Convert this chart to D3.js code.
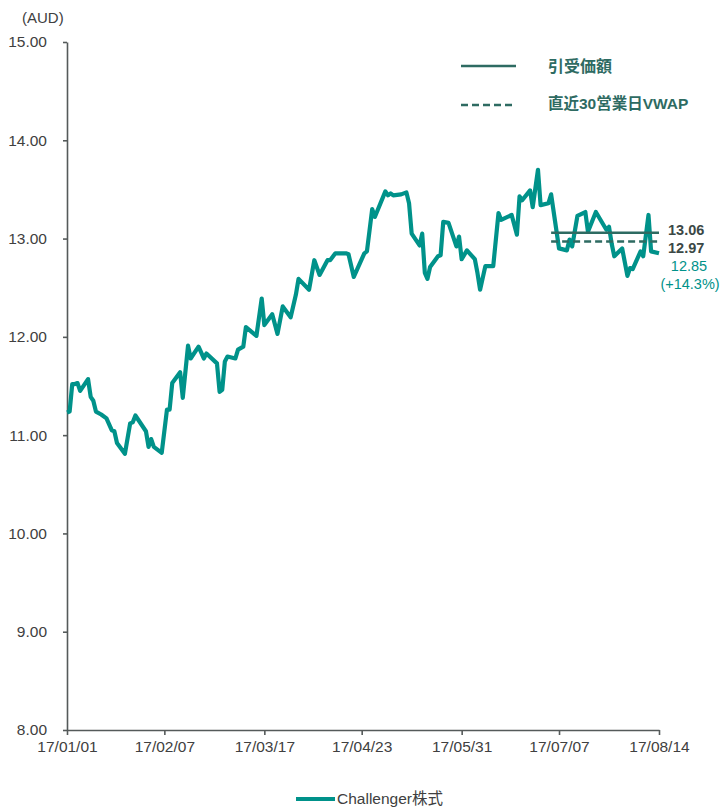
<!DOCTYPE html>
<html>
<head>
<meta charset="utf-8">
<script src="https://cdn.jsdelivr.net/npm/d3@7"></script>
<style>
  html, body { margin: 0; padding: 0; background: #fff; }
  svg { display: block; font-family: "Liberation Sans", Arial, sans-serif; }
</style>
</head>
<body>
<svg id="chart" width="726" height="807"></svg>
<script>
// Challenger share price (AUD), 2017
const dates = [
  "2017-01-01","2017-01-02","2017-01-03","2017-01-04","2017-01-05","2017-01-06","2017-01-09","2017-01-10",
  "2017-01-11","2017-01-12","2017-01-14","2017-01-16","2017-01-18","2017-01-19","2017-01-20","2017-01-23",
  "2017-01-25","2017-01-26","2017-01-27","2017-01-31","2017-02-01","2017-02-02","2017-02-03","2017-02-06",
  "2017-02-08","2017-02-09","2017-02-10","2017-02-13","2017-02-14","2017-02-16","2017-02-17","2017-02-20",
  "2017-02-22","2017-02-23","2017-02-27","2017-02-28","2017-03-01","2017-03-02","2017-03-03","2017-03-06",
  "2017-03-07","2017-03-09","2017-03-10","2017-03-14","2017-03-16","2017-03-17","2017-03-20","2017-03-22",
  "2017-03-24","2017-03-27","2017-03-29","2017-03-30","2017-04-03","2017-04-05","2017-04-07","2017-04-10",
  "2017-04-11","2017-04-13","2017-04-17","2017-04-18","2017-04-20","2017-04-24","2017-04-25","2017-04-27",
  "2017-04-28","2017-05-02","2017-05-03","2017-05-04","2017-05-05","2017-05-08","2017-05-10","2017-05-11",
  "2017-05-12","2017-05-15","2017-05-16","2017-05-17","2017-05-18","2017-05-19","2017-05-22","2017-05-23",
  "2017-05-24","2017-05-26","2017-05-29","2017-05-30","2017-05-31","2017-06-02","2017-06-05","2017-06-06",
  "2017-06-07","2017-06-09","2017-06-12","2017-06-14","2017-06-15","2017-06-19","2017-06-21","2017-06-22",
  "2017-06-23","2017-06-26","2017-06-27","2017-06-29","2017-06-30","2017-07-03","2017-07-04","2017-07-07",
  "2017-07-10","2017-07-11","2017-07-12","2017-07-14","2017-07-17","2017-07-18","2017-07-21","2017-07-25",
  "2017-07-26","2017-07-27","2017-07-28","2017-07-31","2017-08-02","2017-08-03","2017-08-04","2017-08-07",
  "2017-08-08","2017-08-10","2017-08-11","2017-08-14"
];
const prices = [
  11.23,11.24,11.52,11.52,11.53,11.45,11.57,11.39,
  11.35,11.24,11.21,11.17,11.05,11.04,10.92,10.81,
  11.12,11.13,11.20,11.04,10.88,10.96,10.88,10.82,
  11.26,11.26,11.53,11.64,11.38,11.91,11.78,11.90,
  11.78,11.83,11.73,11.44,11.46,11.75,11.80,11.78,
  11.87,11.90,12.10,12.01,12.39,12.12,12.23,12.03,
  12.31,12.20,12.43,12.59,12.48,12.78,12.63,12.78,
  12.78,12.85,12.85,12.84,12.61,12.85,12.87,13.30,
  13.22,13.48,13.44,13.46,13.44,13.45,13.47,13.36,
  13.05,12.93,13.05,12.65,12.59,12.71,12.82,12.83,
  13.17,13.16,12.92,13.02,12.79,12.88,12.79,12.65,
  12.48,12.72,12.72,13.26,13.19,13.24,13.04,13.43,
  13.39,13.49,13.32,13.70,13.34,13.36,13.45,12.90,
  12.88,12.99,12.92,13.23,13.27,13.07,13.27,13.09,
  13.12,12.95,12.82,12.90,12.62,12.70,12.69,12.87,
  12.82,13.24,12.87,12.85
];

// Reference levels over the last 30 trading days
const refStart = "2017-07-04";
const refEnd = "2017-08-14";
const offerPrice = 13.06;
const vwap30 = 12.97;
const lastPrice = 12.85;
const premiumLabel = "(+14.3%)";

const xTickDates = ["2017-01-01","2017-02-07","2017-03-17","2017-04-23","2017-05-31","2017-07-07","2017-08-14"];
const yTicks = [8, 9, 10, 11, 12, 13, 14, 15];

const seriesName = "Challenger株式";
const legendOffer = "引受価額";
const legendVwap = "直近30営業日VWAP";

const parse = d3.timeParse("%Y-%m-%d");
const fmtDate = d3.timeFormat("%y/%m/%d");

const TEAL = "#00928a";
const DARK = "#2e6b62";
const AXIS = "#555a5a";
const TEXT = "#404040";

const svg = d3.select("#chart");

const x = d3.scaleTime()
  .domain([parse(xTickDates[0]), parse(xTickDates[xTickDates.length - 1])])
  .range([67, 659]);
const y = d3.scaleLinear().domain([8, 15]).range([730, 42]);

// Axes
const yAxis = svg.append("g")
  .attr("transform", "translate(67,0)")
  .call(d3.axisLeft(y).tickValues(yTicks).tickFormat(d3.format(".2f")).tickSize(4).tickSizeOuter(0).tickPadding(16));
const xAxis = svg.append("g")
  .attr("transform", "translate(0,730)")
  .call(d3.axisBottom(x).tickValues(xTickDates.map(parse)).tickFormat(fmtDate).tickSize(5).tickSizeOuter(0).tickPadding(6));

[yAxis, xAxis].forEach(g => {
  g.select(".domain").attr("stroke", AXIS).attr("stroke-width", 1.6);
  g.selectAll(".tick line").attr("stroke", AXIS).attr("stroke-width", 1.6);
  g.selectAll(".tick text").attr("fill", TEXT).style("font-size", "15.5px")
    .style("font-family", "'Liberation Sans', Arial, sans-serif");
});

svg.append("text")
  .attr("x", 22).attr("y", 23)
  .attr("fill", TEXT).style("font-size", "15px")
  .text("(AUD)");

// Price line
const data = dates.map((d, i) => ({ date: parse(d), value: prices[i] }));
const line = d3.line().x(d => x(d.date)).y(d => y(d.value));
svg.append("path")
  .datum(data)
  .attr("d", line)
  .attr("fill", "none")
  .attr("stroke", TEAL)
  .attr("stroke-width", 4.2)
  .attr("stroke-linejoin", "round");

// Offer price and VWAP levels
const x0 = x(parse(refStart)), x1 = x(parse(refEnd));
svg.append("line")
  .attr("x1", x0).attr("x2", x1)
  .attr("y1", y(offerPrice)).attr("y2", y(offerPrice))
  .attr("stroke", DARK).attr("stroke-width", 2.5);
svg.append("line")
  .attr("x1", x0).attr("x2", x1)
  .attr("y1", y(vwap30)).attr("y2", y(vwap30))
  .attr("stroke", DARK).attr("stroke-width", 2.5)
  .attr("stroke-dasharray", "7,4");

// End labels
svg.append("text").attr("x", 668).attr("y", y(offerPrice) - 3).attr("dy", "0.35em")
  .attr("fill", "#3b4846").style("font-size", "14.5px").style("font-weight", "bold")
  .text(offerPrice.toFixed(2));
svg.append("text").attr("x", 668).attr("y", y(vwap30) + 6).attr("dy", "0.35em")
  .attr("fill", "#3b4846").style("font-size", "14.5px").style("font-weight", "bold")
  .text(vwap30.toFixed(2));
svg.append("text").attr("x", 689).attr("y", y(lastPrice) + 13).attr("dy", "0.35em")
  .attr("text-anchor", "middle")
  .attr("fill", TEAL).style("font-size", "14.5px")
  .text(lastPrice.toFixed(2));
svg.append("text").attr("x", 690).attr("y", y(lastPrice) + 31).attr("dy", "0.35em")
  .attr("text-anchor", "middle")
  .attr("fill", TEAL).style("font-size", "14.5px")
  .text(premiumLabel);

// Legend (top right)
const lg = svg.append("g");
lg.append("line").attr("x1", 461).attr("x2", 516).attr("y1", 66).attr("y2", 66)
  .attr("stroke", DARK).attr("stroke-width", 2.5);
lg.append("line").attr("x1", 461).attr("x2", 516).attr("y1", 105).attr("y2", 105)
  .attr("stroke", DARK).attr("stroke-width", 2.5).attr("stroke-dasharray", "7,4");
lg.append("text").attr("x", 548).attr("y", 66).attr("dy", "0.35em")
  .attr("fill", DARK).style("font-size", "16px").style("font-weight", "bold")
  .style("font-family", "'Noto Sans CJK JP', 'Liberation Sans', sans-serif")
  .text(legendOffer);
lg.append("text").attr("x", 548).attr("y", 104).attr("dy", "0.35em")
  .attr("fill", DARK).style("font-size", "15.5px").style("font-weight", "bold")
  .style("font-family", "'Liberation Sans', 'Noto Sans CJK JP', sans-serif")
  .text(legendVwap);

// Legend (bottom)
svg.append("line").attr("x1", 296).attr("x2", 335).attr("y1", 799).attr("y2", 799)
  .attr("stroke", TEAL).attr("stroke-width", 4);
svg.append("text").attr("x", 337).attr("y", 799).attr("dy", "0.35em")
  .attr("fill", TEXT).style("font-size", "15.5px")
  .style("font-family", "'Liberation Sans', 'Noto Sans CJK JP', sans-serif")
  .text(seriesName);
</script>
</body>
</html>
